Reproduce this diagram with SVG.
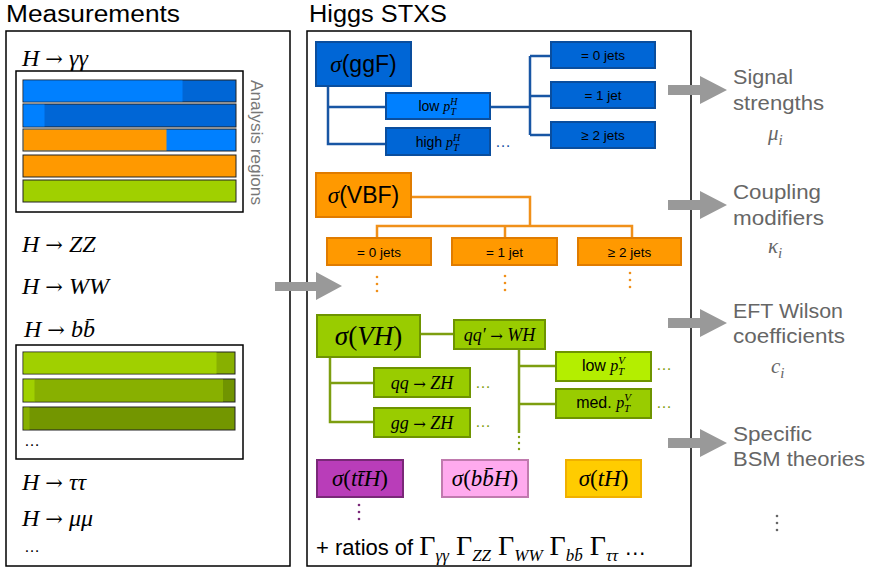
<svg xmlns="http://www.w3.org/2000/svg" width="870" height="570" viewBox="0 0 870 570">
<defs>
<style>
.title{font-family:"Liberation Sans",Arial,sans-serif;font-size:23px;fill:#000}
.math{font-family:"Liberation Serif","Times New Roman",serif;font-style:italic;fill:#000}
.up{font-style:normal}
.arr{font-family:"DejaVu Serif",serif;font-style:normal}
.sans{font-family:"Liberation Sans",Arial,sans-serif;fill:#000}
.frame{fill:#fff;stroke:#000;stroke-width:1.5}
.bar{stroke:#222;stroke-width:1}
.side{font-family:"Liberation Sans",Arial,sans-serif;font-size:20px;fill:#666}
.sidem{font-family:"Liberation Serif","Times New Roman",serif;font-style:italic;font-size:21px;fill:#666}
.gbar{fill:#999}
.blue{fill:#0066D6;stroke:#0A4E9E;stroke-width:2}
.blueL{fill:#0080FF;stroke:#0A4E9E;stroke-width:2}
.orange{fill:#FF9900;stroke:#E07C00;stroke-width:2}
.green{fill:#99CC00;stroke:#6E9400;stroke-width:2}
.greenL{fill:#B4EE00;stroke:#6E9400;stroke-width:2}
.cb{fill:none;stroke:#1856A4;stroke-width:2.5}
.co{fill:none;stroke:#F0901A;stroke-width:2.5}
.cg{fill:none;stroke:#7D9E10;stroke-width:2.5}
</style>
</defs>

<!-- Titles -->
<text class="title" x="6" y="22" textLength="174" lengthAdjust="spacingAndGlyphs">Measurements</text>
<text class="title" x="309" y="22" textLength="138" lengthAdjust="spacingAndGlyphs">Higgs STXS</text>

<!-- Measurements panel -->
<g id="measurements">
<rect class="frame" x="6" y="31" width="284" height="535"/>
<text class="math" x="22" y="66" font-size="24">H <tspan class="arr" font-size="21">→</tspan> γγ</text>
<rect class="frame" x="16" y="71" width="227" height="141"/>
<g id="bars-gg">
<rect x="23" y="80" width="213" height="22" fill="#0066D6" class="bar"/>
<rect x="23.5" y="80.5" width="159" height="21" fill="#0080FF"/>
<rect x="23" y="104" width="213" height="23" fill="#0066D6" class="bar"/>
<rect x="23.5" y="104.5" width="21" height="22" fill="#0080FF"/>
<rect x="23" y="129" width="213" height="22" fill="#0080FF" class="bar"/>
<rect x="23.5" y="129.5" width="143" height="21" fill="#FF9900"/>
<rect x="23" y="155" width="213" height="22" fill="#FF9900" class="bar"/>
<rect x="23" y="180" width="213" height="22" fill="#A0D000" class="bar"/>
</g>
<text class="sans" font-size="16" style="fill:#777" transform="translate(251,80) rotate(90)" textLength="125" lengthAdjust="spacingAndGlyphs">Analysis regions</text>
<text class="math" x="22" y="252" font-size="24">H <tspan class="arr" font-size="21">→</tspan> ZZ</text>
<text class="math" x="22" y="294" font-size="24">H <tspan class="arr" font-size="21">→</tspan> WW</text>
<text class="math" x="24" y="337" font-size="24">H <tspan class="arr" font-size="21">→</tspan> bb̄</text>
<rect class="frame" x="16" y="345" width="227" height="114"/>
<g id="bars-bb">
<rect x="23" y="352" width="212" height="22" fill="#88B000" class="bar"/>
<rect x="23.5" y="352.5" width="193" height="21" fill="#A0D000"/>
<rect x="23" y="379" width="212" height="23" fill="#709400" class="bar"/>
<rect x="34" y="379.5" width="189" height="22" fill="#88B000"/>
<rect x="23.5" y="379.5" width="11" height="22" fill="#A0D000"/>
<rect x="23" y="407" width="212" height="23" fill="#739600" class="bar"/>
<rect x="23.5" y="407.5" width="6" height="22" fill="#88B000"/>
</g>
<text class="sans" x="24" y="446" font-size="16">…</text>
<text class="math" x="22" y="490" font-size="24">H <tspan class="arr" font-size="21">→</tspan> ττ</text>
<text class="math" x="22" y="526" font-size="24">H <tspan class="arr" font-size="21">→</tspan> μμ</text>
<text class="sans" x="24" y="552" font-size="16">…</text>
</g>

<!-- STXS panel frame -->
<rect class="frame" x="307" y="31" width="384" height="535"/>

<!-- Connectors -->
<g id="connectors">
<path class="cb" d="M328 86 V144 H386 M328 107 H386 M490 107 H530 M530 56 V135 M530 56 H551 M530 96 H551 M530 135 H551"/>
<path class="co" d="M411 197 H530 V226 M377 238 V226 H632 V238 M505 226 V238"/>
<path class="cg" d="M420 334 H454 M330 357 V422 H374 M330 383 H374 M519 349 V433 M519 366 H556 M519 404 H556"/>
</g>

<!-- ggF -->
<g id="ggF">
<rect class="blue" x="316" y="42" width="95" height="44"/>
<text x="363.5" y="72" text-anchor="middle" font-size="23"><tspan class="math">σ</tspan><tspan class="sans">(ggF)</tspan></text>
</g>
<g id="ggF-lowpt">
<rect class="blueL" x="386" y="93" width="104" height="26"/>
<text x="438" y="111" text-anchor="middle" font-size="14"><tspan class="sans">low </tspan><tspan class="math">p</tspan><tspan class="math" font-size="10" dy="-6">H</tspan><tspan class="math" font-size="10" dx="-7" dy="10">T</tspan></text>
</g>
<g id="ggF-highpt">
<rect class="blue" x="386" y="128" width="104" height="27"/>
<text x="438" y="147" text-anchor="middle" font-size="14"><tspan class="sans">high </tspan><tspan class="math">p</tspan><tspan class="math" font-size="10" dy="-6">H</tspan><tspan class="math" font-size="10" dx="-7" dy="10">T</tspan></text>
<text class="sans" x="495" y="147" font-size="16" letter-spacing="1" style="fill:#1856A4">…</text>
</g>
<g id="ggF-0j">
<rect class="blue" x="551" y="42" width="104" height="26"/>
<text class="sans" x="603" y="60" text-anchor="middle" font-size="13.5">= 0 jets</text>
</g>
<g id="ggF-1j">
<rect class="blue" x="551" y="82" width="104" height="26"/>
<text class="sans" x="603" y="100" text-anchor="middle" font-size="13.5">= 1 jet</text>
</g>
<g id="ggF-2j">
<rect class="blue" x="551" y="122" width="104" height="26"/>
<text class="sans" x="603" y="140" text-anchor="middle" font-size="13.5">≥ 2 jets</text>
</g>

<!-- VBF -->
<g id="VBF">
<rect class="orange" x="316" y="173" width="95" height="44"/>
<text x="363.5" y="203" text-anchor="middle" font-size="23"><tspan class="math">σ</tspan><tspan class="sans">(VBF)</tspan></text>
</g>
<g id="VBF-0j">
<rect class="orange" x="327" y="238" width="104" height="27"/>
<text class="sans" x="379" y="257" text-anchor="middle" font-size="13.5">= 0 jets</text>
</g>
<g id="VBF-1j">
<rect class="orange" x="452" y="238" width="105" height="27"/>
<text class="sans" x="504.5" y="257" text-anchor="middle" font-size="13.5">= 1 jet</text>
</g>
<g id="VBF-2j">
<rect class="orange" x="578" y="238" width="103" height="27"/>
<text class="sans" x="629.5" y="257" text-anchor="middle" font-size="13.5">≥ 2 jets</text>
</g>
<g id="vbf-dots" fill="#F0901A">
<circle cx="377" cy="277" r="1.3"/><circle cx="377" cy="284" r="1.3"/><circle cx="377" cy="291" r="1.3"/>
<circle cx="505" cy="276" r="1.3"/><circle cx="505" cy="283" r="1.3"/><circle cx="505" cy="290" r="1.3"/>
<circle cx="630" cy="273" r="1.3"/><circle cx="630" cy="280" r="1.3"/><circle cx="630" cy="287" r="1.3"/>
</g>

<!-- VH -->
<g id="VH">
<rect class="green" x="317" y="315" width="103" height="42"/>
<text class="math" x="368.5" y="345" text-anchor="middle" font-size="27">σ<tspan class="up">(</tspan>VH<tspan class="up">)</tspan></text>
</g>
<g id="VH-WH">
<rect class="green" x="454" y="320" width="91" height="29"/>
<text class="math" x="499.5" y="341" text-anchor="middle" font-size="18">qq′ <tspan class="arr" font-size="15">→</tspan> WH</text>
</g>
<g id="VH-qqZH">
<rect class="green" x="374" y="368" width="96" height="29"/>
<text class="math" x="422" y="389" text-anchor="middle" font-size="18">qq <tspan class="arr" font-size="15">→</tspan> ZH</text>
<text class="sans" x="475" y="388" font-size="16" letter-spacing="1" style="fill:#7D9E10">…</text>
</g>
<g id="VH-ggZH">
<rect class="green" x="374" y="408" width="96" height="29"/>
<text class="math" x="422" y="429" text-anchor="middle" font-size="18">gg <tspan class="arr" font-size="15">→</tspan> ZH</text>
<text class="sans" x="475" y="427" font-size="16" letter-spacing="1" style="fill:#7D9E10">…</text>
</g>
<g id="VH-lowpt">
<rect class="greenL" x="556" y="352" width="95" height="29"/>
<text x="603.5" y="371" text-anchor="middle" font-size="16"><tspan class="sans">low </tspan><tspan class="math">p</tspan><tspan class="math" font-size="11" dy="-7">V</tspan><tspan class="math" font-size="11" dx="-7" dy="11">T</tspan></text>
<text class="sans" x="656" y="370" font-size="16" style="fill:#7D9E10">…</text>
</g>
<g id="VH-medpt">
<rect class="green" x="556" y="389" width="95" height="29"/>
<text x="603.5" y="408" text-anchor="middle" font-size="16"><tspan class="sans">med. </tspan><tspan class="math">p</tspan><tspan class="math" font-size="11" dy="-7">V</tspan><tspan class="math" font-size="11" dx="-7" dy="11">T</tspan></text>
<text class="sans" x="656" y="408" font-size="16" style="fill:#7D9E10">…</text>
</g>
<g id="vh-dots" fill="#7D9E10">
<circle cx="519" cy="437" r="1.2"/><circle cx="519" cy="443" r="1.2"/><circle cx="519" cy="449" r="1.2"/>
</g>

<!-- Other production modes -->
<g id="ttH">
<rect x="317" y="460" width="86" height="37" fill="#B93DB9" stroke="#7A2878" stroke-width="2"/>
<text class="math" x="360" y="486" text-anchor="middle" font-size="23">σ<tspan class="up">(</tspan>tt̄H<tspan class="up">)</tspan></text>
<g fill="#7A2878"><circle cx="359" cy="505" r="1.3"/><circle cx="359" cy="512" r="1.3"/><circle cx="359" cy="519" r="1.3"/></g>
</g>
<g id="bbH">
<rect x="442" y="460" width="86" height="37" fill="#FFAAEE" stroke="#C07AAE" stroke-width="2"/>
<text class="math" x="485" y="486" text-anchor="middle" font-size="23">σ<tspan class="up">(</tspan>bb̄H<tspan class="up">)</tspan></text>
</g>
<g id="tH">
<rect x="566" y="460" width="75" height="37" fill="#FFCC00" stroke="#F0B000" stroke-width="2"/>
<text class="math" x="603.5" y="486" text-anchor="middle" font-size="23">σ<tspan class="up">(</tspan>tH<tspan class="up">)</tspan></text>
</g>

<!-- ratios -->
<text x="316" y="555" font-size="22"><tspan class="sans">+ ratios of </tspan><tspan class="math up" font-size="28">Γ</tspan><tspan class="math" font-size="17" dy="6">γγ</tspan><tspan class="math up" font-size="28" dy="-6"> Γ</tspan><tspan class="math" font-size="17" dy="6">ZZ</tspan><tspan class="math up" font-size="28" dy="-6"> Γ</tspan><tspan class="math" font-size="17" dy="6">WW</tspan><tspan class="math up" font-size="28" dy="-6"> Γ</tspan><tspan class="math" font-size="17" dy="6">bb̄</tspan><tspan class="math up" font-size="28" dy="-6"> Γ</tspan><tspan class="math" font-size="17" dy="6">ττ</tspan><tspan class="sans" font-size="22" dy="-6"> …</tspan></text>

<!-- Gray arrows -->
<g id="arrows" class="gbar">
<path d="M275 282 H316 V272 L342 286 L316 300 V291 H275 Z"/>
<path d="M668 85 H700 V76 L727 90 L700 104 V95 H668 Z"/>
<path d="M668 200 H700 V191 L727 205 L700 219 V210 H668 Z"/>
<path d="M668 318 H700 V309 L727 323 L700 337 V328 H668 Z"/>
<path d="M668 438 H700 V429 L727 443 L700 457 V448 H668 Z"/>
</g>

<!-- Outcomes -->
<g id="signal-strengths">
<text class="side" x="733" y="84" textLength="60" lengthAdjust="spacingAndGlyphs">Signal</text>
<text class="side" x="733" y="110" textLength="91" lengthAdjust="spacingAndGlyphs">strengths</text>
<text class="sidem" x="768" y="140">μ<tspan font-size="15" dy="5">i</tspan></text>
</g>
<g id="coupling-modifiers">
<text class="side" x="733" y="199" textLength="88" lengthAdjust="spacingAndGlyphs">Coupling</text>
<text class="side" x="733" y="225" textLength="91" lengthAdjust="spacingAndGlyphs">modifiers</text>
<text class="sidem" x="768" y="253">κ<tspan font-size="15" dy="5">i</tspan></text>
</g>
<g id="eft">
<text class="side" x="733" y="318" textLength="110" lengthAdjust="spacingAndGlyphs">EFT Wilson</text>
<text class="side" x="733" y="343" textLength="112" lengthAdjust="spacingAndGlyphs">coefficients</text>
<text class="sidem" x="771" y="373">c<tspan font-size="15" dy="5">i</tspan></text>
</g>
<g id="bsm">
<text class="side" x="733" y="441" textLength="79" lengthAdjust="spacingAndGlyphs">Specific</text>
<text class="side" x="733" y="466" textLength="132" lengthAdjust="spacingAndGlyphs">BSM theories</text>
<g fill="#666"><circle cx="777" cy="516" r="1.3"/><circle cx="777" cy="523" r="1.3"/><circle cx="777" cy="530" r="1.3"/></g>
</g>
</svg>
